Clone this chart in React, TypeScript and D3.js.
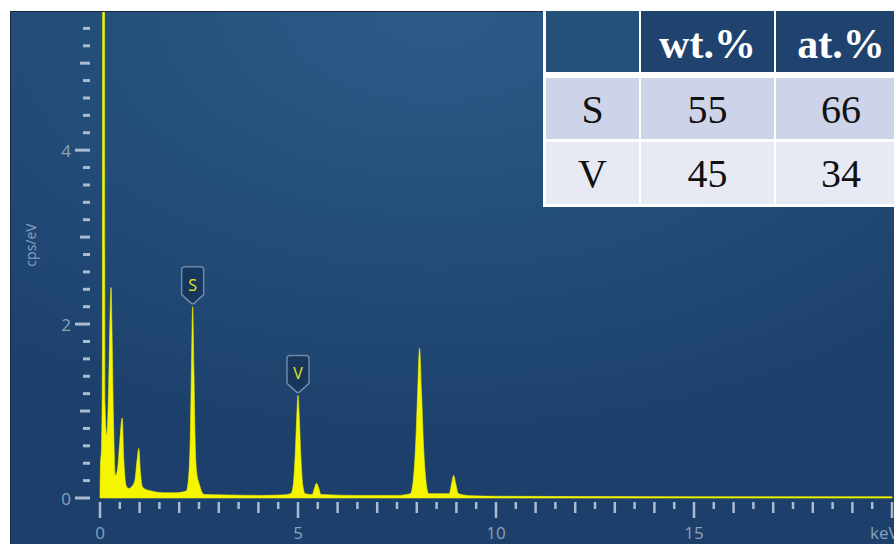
import React from "react";
import * as d3 from "d3";

// Spectrum (energy keV, intensity cps/eV)
const energies = [
  0.0, 0.01, 0.04, 0.06, 0.07, 0.11, 0.125, 0.17, 0.22, 0.26, 0.28, 0.3, 0.34, 0.39, 0.44, 0.5, 0.56, 0.6,
  0.66, 0.72, 0.8, 0.88, 0.94, 0.98, 1.02, 1.07, 1.15, 1.3, 1.6, 1.9, 2.18, 2.24, 2.28, 2.31, 2.34, 2.37,
  2.4, 2.44, 2.48, 2.52, 2.57, 2.65, 3.2, 4.0, 4.6, 4.82, 4.88, 4.93, 4.97, 5.0, 5.03, 5.07, 5.12, 5.18,
  5.36, 5.42, 5.47, 5.52, 5.58, 6.5, 7.5, 7.84, 7.91, 7.97, 8.02, 8.07, 8.12, 8.17, 8.23, 8.3, 8.82, 8.88,
  8.93, 8.98, 9.05, 9.4, 10, 15, 20,
];
const counts = [
  0.0, 0.35, 0.6, 1.5, 7.0, 7.0, 1.1, 0.72, 1.3, 2.2, 2.42, 2.0, 0.9, 0.26, 0.32, 0.65, 0.92, 0.45,
  0.14, 0.11, 0.13, 0.2, 0.45, 0.57, 0.3, 0.13, 0.1, 0.08, 0.06, 0.06, 0.08, 0.25, 0.7, 1.5, 2.2, 1.5,
  0.7, 0.3, 0.2, 0.14, 0.07, 0.04, 0.035, 0.03, 0.035, 0.05, 0.15, 0.5, 0.95, 1.18, 0.95, 0.5, 0.15, 0.05,
  0.04, 0.12, 0.17, 0.12, 0.04, 0.03, 0.03, 0.05, 0.2, 0.6, 1.2, 1.72, 1.2, 0.6, 0.2, 0.05, 0.05, 0.17,
  0.26, 0.17, 0.05, 0.025, 0.02, 0.015, 0.015,
];

// Peak labels
const peakLabels = ["S", "V"];
const peakEnergies = [2.34, 5.0];
const peakHeights = [2.2, 1.18];

// Axis tick labels
const xTickLabels = [0, 5, 10, 15];
const yTickLabels = [0, 2, 4];

// Table
const tableHeaders = ["", "wt.%", "at.%"];
const elements = ["S", "V"];
const wtPct = [55, 45];
const atPct = [66, 34];

export default function App() {
  const W = 894;
  const H = 544;
  const x = d3.scaleLinear().domain([0, 20]).range([100, 892]);
  const y = d3.scaleLinear().domain([0, 5.6]).range([498, 11]);

  const data = energies.map((e, i) => [e, counts[i]] as [number, number]);
  const area = d3
    .area<[number, number]>()
    .x((d) => x(d[0]))
    .y0(y(0))
    .y1((d) => y(d[1]))
    .curve(d3.curveMonotoneX);

  const yMinor = d3.range(0, 28).map((i) => +(i * 0.2).toFixed(1));
  const xMinor = d3.range(0, 41).map((i) => i * 0.5);

  const tickColor = "#a9bcd0";
  const labelColor = "#8aa2bc";
  const font = "'Open Sans', 'DejaVu Sans', sans-serif";

  // table geometry
  const colX = [546, 641, 776];
  const colW = [93, 133, 130];
  const rowY = [11, 78, 142];
  const rowH = [61, 61, 62];

  return (
    <svg
      width={W}
      height={H}
      style={{ position: "absolute", left: 0, top: 0, background: "#fff" }}
    >
      <defs>
        <radialGradient id="bg" cx="0.48" cy="0" r="0.85" fx="0.48" fy="0">
          <stop offset="0" stopColor="#2c5b87" />
          <stop offset="0.55" stopColor="#234c78" />
          <stop offset="1" stopColor="#1c3f6b" />
        </radialGradient>
        <clipPath id="plotClip">
          <rect x={11} y={12} width={W - 11} height={H - 12} />
        </clipPath>
      </defs>
      <rect x={0} y={0} width={W} height={H} fill="#fff" />
      <rect x={10} y={11} width={W - 10} height={H - 11} fill="url(#bg)" />
      <line x1={10.5} y1={11} x2={10.5} y2={H} stroke="#1a2a3a" strokeWidth={1} />
      <line x1={10} y1={11.5} x2={W} y2={11.5} stroke="#1a2a3a" strokeWidth={1} />

      {/* Y ticks */}
      {yMinor.map((v) => {
        const r = Math.round(v * 10);
        const len = r % 20 === 0 ? 15 : r % 10 === 0 ? 10 : 7;
        return (
          <line
            key={"yt" + v}
            x1={90 - len}
            x2={90}
            y1={y(v)}
            y2={y(v)}
            stroke={tickColor}
            strokeWidth={3}
          />
        );
      })}
      {yTickLabels.map((v) => (
        <text
          key={"yl" + v}
          x={71}
          y={y(v)}
          textAnchor="end"
          dominantBaseline="central"
          fill={labelColor}
          fontFamily={font}
          fontSize={17}
        >
          {v}
        </text>
      ))}
      <text
        transform="translate(30,245) rotate(-90)"
        textAnchor="middle"
        dominantBaseline="central"
        fill={labelColor}
        fontFamily={font}
        fontSize={14}
      >
        cps/eV
      </text>

      {/* X ticks */}
      {xMinor.map((v) => {
        const len = v % 5 === 0 ? 16 : v % 1 === 0 ? 11 : 7;
        return (
          <line
            key={"xt" + v}
            x1={x(v)}
            x2={x(v)}
            y1={502}
            y2={502 + len}
            stroke={tickColor}
            strokeWidth={2.5}
          />
        );
      })}
      {xTickLabels.map((v) => (
        <text
          key={"xl" + v}
          x={x(v)}
          y={539}
          textAnchor="middle"
          fill={labelColor}
          fontFamily={font}
          fontSize={17}
        >
          {v}
        </text>
      ))}
      <text x={870} y={539} fill={labelColor} fontFamily={font} fontSize={17}>
        keV
      </text>

      {/* Spectrum */}
      <g clipPath="url(#plotClip)">
        <path d={area(data) || ""} fill="#f5f500" stroke="#f5f500" strokeWidth={0.6} />
      </g>

      {/* Peak tags */}
      {peakLabels.map((lab, i) => {
        const cx = x(peakEnergies[i]);
        const tip = y(peakHeights[i]);
        const top = tip - 40;
        const hw = 11;
        const r = 3;
        const p = d3.path();
        p.moveTo(cx - hw + r, top);
        p.lineTo(cx + hw - r, top);
        p.quadraticCurveTo(cx + hw, top, cx + hw, top + r);
        p.lineTo(cx + hw, tip - 12);
        p.lineTo(cx + 1, tip - 3);
        p.lineTo(cx - 1, tip - 3);
        p.lineTo(cx - hw, tip - 12);
        p.lineTo(cx - hw, top + r);
        p.quadraticCurveTo(cx - hw, top, cx - hw + r, top);
        p.closePath();
        return (
          <g key={"tag" + lab}>
            <path d={p.toString()} fill="#17365c" stroke="#6d89a8" strokeWidth={1.5} />
            <text
              x={cx}
              y={top + 18}
              textAnchor="middle"
              dominantBaseline="central"
              fill="#e6e61e"
              fontFamily={font}
              fontSize={16}
            >
              {lab}
            </text>
          </g>
        );
      })}

      {/* Table */}
      <rect x={543} y={0} width={W - 543} height={207} fill="#ffffff" />
      {tableHeaders.map((h, c) => (
        <g key={"th" + c}>
          <rect
            x={colX[c]}
            y={rowY[0]}
            width={colW[c]}
            height={rowH[0]}
            fill={c === 0 ? "#245079" : "#1f426f"}
          />
          <text
            x={colX[c] + colW[c] / 2}
            y={rowY[0] + 47}
            textAnchor="middle"
            fill="#ffffff"
            fontFamily="'Liberation Serif', 'Times New Roman', serif"
            fontWeight="bold"
            fontSize={42}
          >
            {h}
          </text>
        </g>
      ))}
      {elements.map((el, r) => {
        const vals = [el, String(wtPct[r]), String(atPct[r])];
        return (
          <g key={"row" + el}>
            {vals.map((v, c) => (
              <g key={"c" + c}>
                <rect
                  x={colX[c]}
                  y={rowY[r + 1]}
                  width={colW[c]}
                  height={rowH[r + 1]}
                  fill={r === 0 ? "#cdd4e9" : "#e7e9f3"}
                />
                <text
                  x={colX[c] + colW[c] / 2}
                  y={rowY[r + 1] + 45}
                  textAnchor="middle"
                  fill="#111"
                  fontFamily="'Liberation Serif', 'Times New Roman', serif"
                  fontSize={40}
                >
                  {v}
                </text>
              </g>
            ))}
          </g>
        );
      })}
    </svg>
  );
}
